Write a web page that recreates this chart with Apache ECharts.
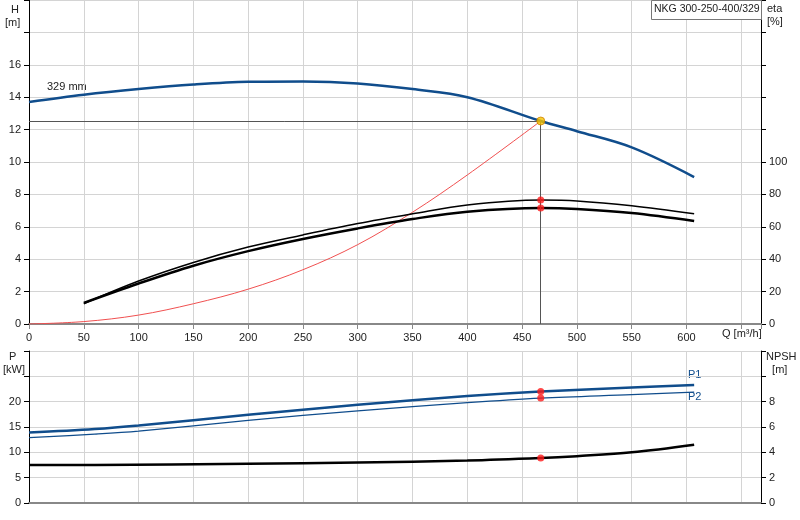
<!DOCTYPE html>
<html><head><meta charset="utf-8">
<script src="https://cdn.jsdelivr.net/npm/echarts@6/dist/echarts.min.js"></script>
<style>html,body{margin:0;padding:0;background:#fff}#c{width:800px;height:520px}</style>
</head><body><div id="c"></div>
<script>
const Q_H=[0,50,100,150,200,250,300,350,400,467,500,550,607];
const H=[13.7,14.15,14.5,14.78,14.95,14.97,14.85,14.5,14.0,12.53,11.9,10.9,9.07];
const Q_sys=[0,50,100,150,200,250,300,350,400,467];
const Hsys=[0,0.15,0.55,1.25,2.15,3.35,4.9,6.9,9.2,12.53];
const Q_eta=[50,100,150,200,250,300,350,400,467,500,550,607];
const eta1=[12.5,26.5,38,47.5,55,62,68,73.5,76.5,76,73,68];
const eta2=[13,25,36,45,52.5,59,64.8,69.3,71.6,71,68.5,63.6];
const Q_P=[0,60,100,200,300,400,467,550,607];
const P1=[13.9,14.6,15.3,17.4,19.4,21.1,22.0,22.8,23.3];
const P2=[12.9,13.6,14.2,16.3,18.2,19.8,20.7,21.4,21.9];
const Q_N=[0,60,200,300,400,467,500,550,607];
const NPSH=[3.0,3.0,3.1,3.2,3.35,3.55,3.7,4.0,4.6];
const dutyQ=467;
const z=(a,b)=>a.map((v,i)=>[v,b[i]]);
const gridC='#d4d4d4', txt='#222', F='Arial, "Liberation Sans", sans-serif';
const lab=(lim)=>({color:txt,fontSize:11,fontFamily:F,formatter:v=>v<=lim?String(v):''});
const xa=(gi,show)=>({type:'value',gridIndex:gi,min:0,max:668,interval:50,
  axisLine:{lineStyle:{color:'#888',width:2}},axisTick:{show:show,lineStyle:{color:'#888'}},
  axisLabel:show?lab(600):{show:false},splitLine:{lineStyle:{color:gridC}}});
const ya=(gi,pos,max,intv,lim,showSplit)=>({type:'value',gridIndex:gi,position:pos,min:0,max:max,interval:intv,
  axisLine:{show:true,lineStyle:{color:'#000'}},axisTick:{show:true,lineStyle:{color:'#000'}},
  axisLabel:lab(lim),splitLine:{show:showSplit,lineStyle:{color:gridC}}});
const ln=(x,y,d,c,w,extra)=>Object.assign({type:'line',xAxisIndex:x,yAxisIndex:y,data:d,showSymbol:false,smooth:0.35,
  lineStyle:{color:c,width:w},silent:true,animation:false,z:3},extra||{});
const chart=echarts.init(document.getElementById('c'));
chart.setOption({
  animation:false,
  grid:[{left:29,right:39,top:0,height:324},{left:29,right:39,top:351,height:152}],
  xAxis:[xa(0,true),xa(1,false)],
  yAxis:[ya(0,'left',20,2,16,true),ya(0,'right',200,20,100,false),ya(1,'left',30,5,20,true),ya(1,'right',12,2,8,false)],
  series:[
    ln(0,0,z(Q_H,H),'#104d8c',2.5,{markLine:{silent:true,symbol:'none',label:{show:false},lineStyle:{color:'#555',type:'solid',width:1},
      data:[[{coord:[0,12.53]},{coord:[dutyQ,12.53]}],[{coord:[dutyQ,12.53]},{coord:[dutyQ,0]}]]}}),
    ln(0,0,z(Q_sys,Hsys),'#f05050',1),
    ln(0,1,z(Q_eta,eta1),'#000',1.5),
    ln(0,1,z(Q_eta,eta2),'#000',2.5),
    ln(1,2,z(Q_P,P1),'#104d8c',2.5),
    ln(1,2,z(Q_P,P2),'#104d8c',1.2),
    ln(1,3,z(Q_N,NPSH),'#000',2.5),
    {type:'scatter',xAxisIndex:0,yAxisIndex:0,data:[[dutyQ,12.53]],symbolSize:8,itemStyle:{color:'#f5c400',borderColor:'#d08000'},z:5},
    {type:'scatter',xAxisIndex:0,yAxisIndex:1,data:[[dutyQ,76.5],[dutyQ,71.6]],symbolSize:7,itemStyle:{color:'#ff1a1a'},z:5},
    {type:'scatter',xAxisIndex:1,yAxisIndex:2,data:[[dutyQ,22.0],[dutyQ,20.7]],symbolSize:7,itemStyle:{color:'#ff1a1a'},z:5},
    {type:'scatter',xAxisIndex:1,yAxisIndex:3,data:[[dutyQ,3.55]],symbolSize:7,itemStyle:{color:'#ff1a1a'},z:5}
  ],
  graphic:[
    {type:'text',left:5,top:3,style:{text:'  H\n[m]',fill:txt,font:'11px '+F,lineHeight:13}},
    {type:'text',left:767,top:2,style:{text:'eta\n[%]',fill:txt,font:'11px '+F,lineHeight:13}},
    {type:'text',left:722,top:328,style:{text:'Q [m³/h]',fill:txt,font:'11px '+F}},
    {type:'text',left:3,top:350,style:{text:'  P\n[kW]',fill:txt,font:'11px '+F,lineHeight:13}},
    {type:'text',left:766,top:350,style:{text:'NPSH\n  [m]',fill:txt,font:'11px '+F,lineHeight:13}},
    {type:'text',left:47,top:81,style:{text:'329 mm',fill:txt,font:'11px '+F}},
    {type:'text',left:688,top:369,style:{text:'P1',fill:'#104d8c',font:'11px '+F}},
    {type:'text',left:688,top:391,style:{text:'P2',fill:'#104d8c',font:'11px '+F}},
    {type:'rect',left:651,top:0,shape:{width:110,height:19},style:{fill:'#fff',stroke:'#777',lineWidth:1},z:10},
    {type:'text',left:654,top:4,style:{text:'NKG 300-250-400/329',fill:txt,font:'10.5px '+F},z:11}
  ]
});
</script></body></html>
